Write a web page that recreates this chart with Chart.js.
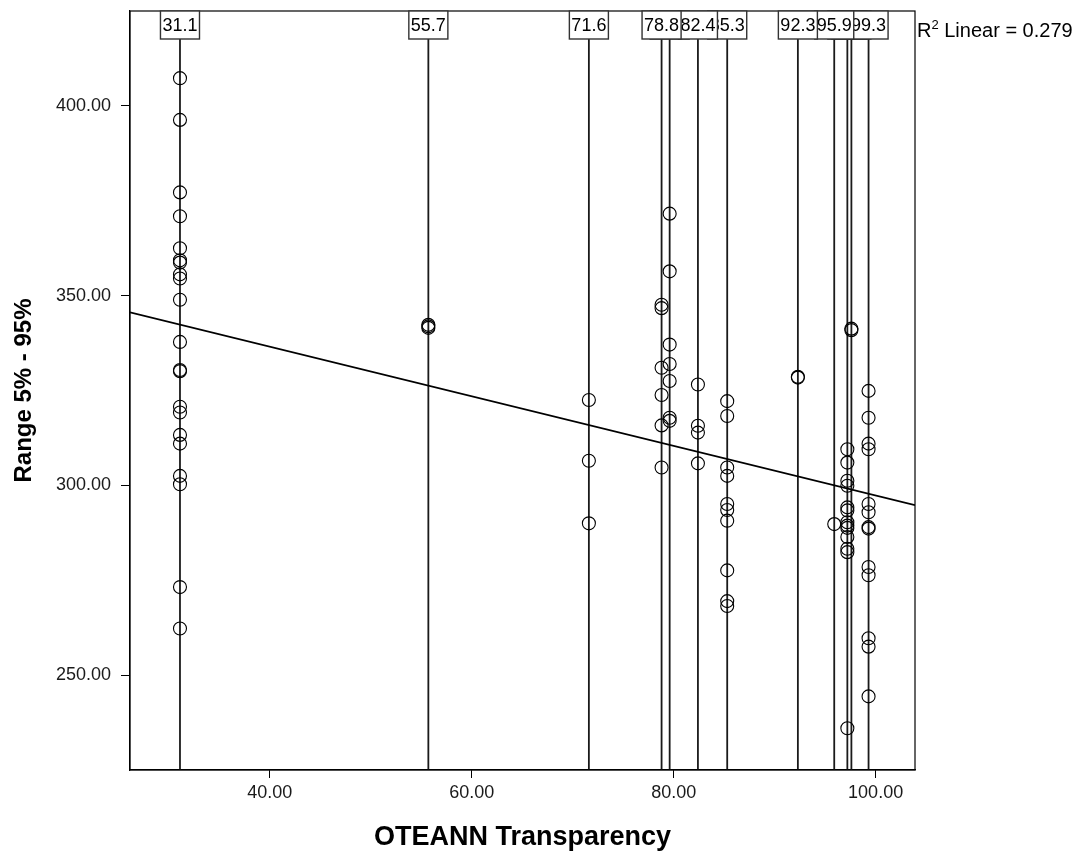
<!DOCTYPE html>
<html>
<head>
<meta charset="utf-8">
<title>Range 5% - 95% by OTEANN Transparency</title>
<script src="https://cdn.jsdelivr.net/npm/chart.js@4.4.1/dist/chart.umd.min.js"></script>
<style>
  html, body { margin: 0; padding: 0; background: #fff; }
  canvas { display: block; }
</style>
</head>
<body>
<canvas id="scatter" width="1079" height="856"></canvas>
<script>
const FONT = '"Liberation Sans", Arial, sans-serif';

// OTEANN Transparency groups (x) and the Range 5% - 95% values of each group
const groupX = [31.1, 55.7, 71.6, 78.8, 79.6, 82.4, 85.3, 92.3, 95.9, 97.2, 97.6, 99.3];
const g311 = [407.3, 396.3, 377.2, 370.9, 362.5, 359.3, 358.7, 355.6, 354.5, 348.9, 337.8,
              330.4, 330.1, 320.7, 319.2, 313.3, 311.0, 302.5, 300.3, 273.2, 262.3];
const g557 = [342.3, 341.9, 341.5];
const g716 = [322.5, 306.5, 290.0];
const g788 = [347.6, 346.7, 331.0, 323.8, 315.8, 304.7];
const g796 = [371.6, 356.4, 337.1, 332.0, 327.5, 317.8, 317.0];
const g824 = [326.6, 315.7, 313.9, 305.8];
const g853 = [322.2, 318.3, 304.7, 302.5, 295.1, 293.5, 290.7, 277.6, 269.5, 268.2];
const g923 = [328.6, 328.4];
const g959 = [289.8];
const g972 = [309.5, 306.0, 301.2, 299.9, 294.2, 293.4, 290.3, 289.4, 288.8, 286.4, 283.3, 282.4, 236.0];
const g976 = [341.3, 340.9];
const g993 = [324.9, 317.8, 311.0, 309.5, 295.1, 292.9, 289.0, 288.6, 278.5, 276.3, 259.7, 257.5, 244.4];
const groupY = [g311, g557, g716, g788, g796, g824, g853, g923, g959, g972, g976, g993];

// labels in the boxes along the top; these three sit under their neighbours
const hiddenLabels = [79.6, 97.2, 97.6];

// linear fit, read at both ends of the x axis
const fitX = [26.15, 103.9];
const fitY = [345.6, 294.8];
const rSquared = '0.279';

// axes
const xRange = [26.15, 103.9];
const yRange = [225, 425];
const xTicks = [40, 60, 80, 100];
const yTicks = [250, 300, 350, 400];

const points = [];
groupX.forEach((x, i) => groupY[i].forEach(y => points.push({ x: x, y: y })));

const dropLines = groupX.map(x => ({
  type: 'scatter',
  data: [{ x: x, y: yRange[0] }, { x: x, y: yRange[1] }],
  showLine: true,
  borderColor: '#1a1a1a',
  borderWidth: 1.8,
  pointRadius: 0,
  order: 3
}));

const frameAndLabels = {
  id: 'frameAndLabels',
  afterDatasetsDraw(chart) {
    const ctx = chart.ctx;
    const area = chart.chartArea;
    const xs = chart.scales.x;
    ctx.save();

    // plot frame
    ctx.strokeStyle = '#000';
    ctx.lineWidth = 1.2;
    ctx.strokeRect(area.left, area.top, area.right - area.left, area.bottom - area.top);

    // value boxes at the top of each drop line
    const order = groupX.filter(x => hiddenLabels.includes(x))
      .concat(groupX.filter(x => !hiddenLabels.includes(x)).sort((a, b) => b - a));
    ctx.font = '18px ' + FONT;
    ctx.textAlign = 'center';
    ctx.textBaseline = 'middle';
    order.forEach(x => {
      const txt = x.toFixed(1);
      const w = ctx.measureText(txt).width + 4;
      const px = xs.getPixelForValue(x);
      ctx.fillStyle = '#fff';
      ctx.fillRect(px - w / 2, area.top, w, 28);
      ctx.strokeStyle = '#333';
      ctx.lineWidth = 1.4;
      ctx.strokeRect(px - w / 2, area.top, w, 28);
      ctx.fillStyle = '#000';
      ctx.fillText(txt, px, area.top + 15);
    });

    // R squared note
    let tx = area.right + 2;
    const ty = 30;
    ctx.textAlign = 'left';
    ctx.textBaseline = 'alphabetic';
    ctx.font = '20px ' + FONT;
    ctx.fillText('R', tx, ty + 7);
    tx += ctx.measureText('R').width;
    ctx.font = '13px ' + FONT;
    ctx.fillText('2', tx, ty - 1);
    tx += ctx.measureText('2').width;
    ctx.font = '20px ' + FONT;
    ctx.fillText(' Linear = ' + rSquared, tx, ty + 7);
    ctx.restore();
  }
};

new Chart(document.getElementById('scatter'), {
  type: 'scatter',
  data: {
    datasets: [
      {
        data: points,
        pointStyle: 'circle',
        pointRadius: 6.5,
        pointHoverRadius: 6.5,
        pointBorderWidth: 1.1,
        pointBorderColor: '#000',
        pointBackgroundColor: 'rgba(0,0,0,0)',
        order: 1
      },
      {
        type: 'scatter',
        data: fitX.map((x, i) => ({ x: x, y: fitY[i] })),
        showLine: true,
        borderColor: '#000',
        borderWidth: 1.6,
        pointRadius: 0,
        order: 2
      }
    ].concat(dropLines)
  },
  options: {
    responsive: false,
    animation: false,
    layout: { padding: { left: 0, top: 11, right: 164, bottom: 0 } },
    plugins: { legend: { display: false }, tooltip: { enabled: false } },
    scales: {
      x: {
        type: 'linear',
        min: xRange[0],
        max: xRange[1],
        afterBuildTicks: s => { s.ticks = xTicks.map(v => ({ value: v })); },
        afterFit: s => { s.height = 86; s.paddingLeft = 0; s.paddingRight = 0; },
        border: { color: '#000', width: 1.2 },
        grid: { drawOnChartArea: false, tickLength: 8, color: '#000', tickColor: '#000' },
        ticks: { color: '#1a1a1a', padding: 4, font: { family: FONT, size: 18 }, callback: v => v.toFixed(2) },
        title: { display: true, text: 'OTEANN Transparency', color: '#000',
                 font: { family: FONT, size: 27, weight: 'bold' }, padding: { top: 2, bottom: 2 } }
      },
      y: {
        type: 'linear',
        min: yRange[0],
        max: yRange[1],
        afterBuildTicks: s => { s.ticks = yTicks.map(v => ({ value: v })); },
        afterFit: s => { s.width = 130; s.paddingTop = 0; s.paddingBottom = 0; },
        border: { color: '#000', width: 1.2 },
        grid: { drawOnChartArea: false, tickLength: 9, color: '#000', tickColor: '#000' },
        ticks: { color: '#1a1a1a', padding: 10, font: { family: FONT, size: 18 }, callback: v => v.toFixed(2) },
        title: { display: true, text: 'Range 5% - 95%', color: '#000',
                 font: { family: FONT, size: 24, weight: 'bold' }, padding: { top: 10, bottom: 4 } }
      }
    }
  },
  plugins: [frameAndLabels]
});
</script>
</body>
</html>
